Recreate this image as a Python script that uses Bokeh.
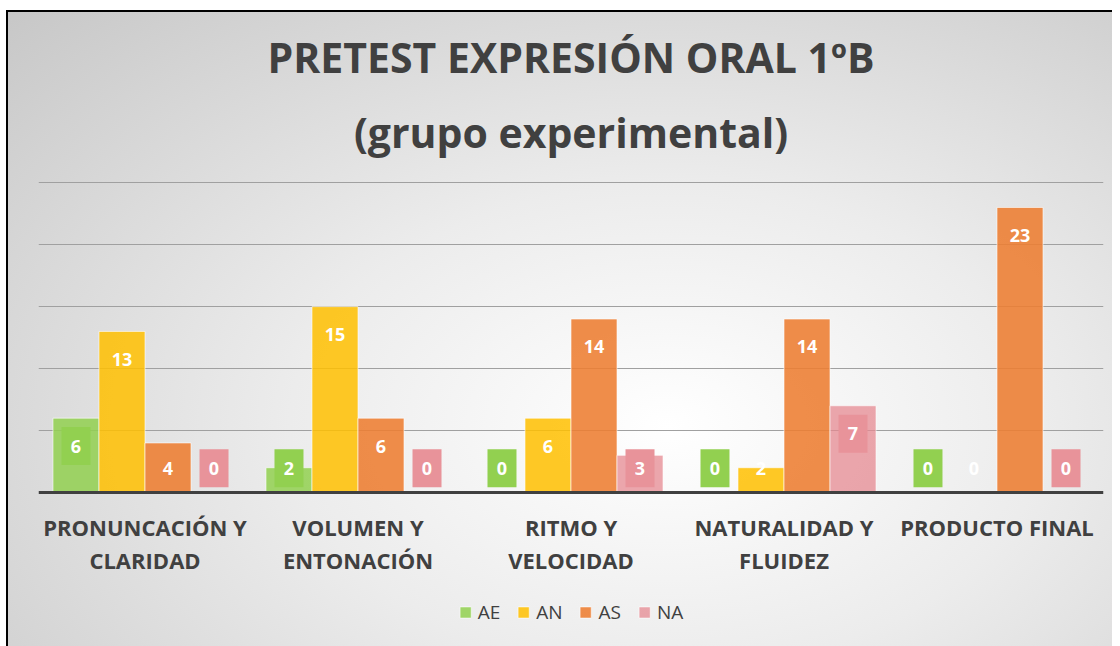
from bokeh.plotting import figure
from bokeh.models import (FactorRange, Range1d, FixedTicker, Legend, LegendItem,
                          ColumnDataSource, Title, Span)
from bokeh.transform import dodge
from bokeh.core.properties import value
from bokeh.embed import file_html
from bokeh.resources import INLINE

categories = ["PRONUNCACIÓN Y CLARIDAD", "VOLUMEN Y ENTONACIÓN", "RITMO Y VELOCIDAD",
              "NATURALIDAD Y FLUIDEZ", "PRODUCTO FINAL"]
label_line1 = ["PRONUNCACIÓN Y", "VOLUMEN Y", "RITMO Y", "NATURALIDAD Y", "PRODUCTO FINAL"]
label_line2 = ["CLARIDAD", "ENTONACIÓN", "VELOCIDAD", "FLUIDEZ", ""]
series_names = ["AE", "AN", "AS", "NA"]
AE = [6, 2, 0, 0, 0]
AN = [13, 15, 6, 2, 0]
AS = [4, 6, 14, 14, 23]
NA = [0, 0, 3, 7, 0]
grid_ticks = [5, 10, 15, 20, 25]
title_line1 = "PRETEST EXPRESIÓN ORAL 1ºB"
title_line2 = "(grupo experimental)"

bar_colors = {"AE": "#92D050", "AN": "#FFC000", "AS": "#ED7D31", "NA": "#E68A91"}
bar_alpha = {"AE": 0.85, "AN": 0.85, "AS": 0.88, "NA": 0.75}
box_colors = {"AE": "#92D050", "AN": None, "AS": None, "NA": "#E8939A"}
offsets = {"AE": -0.324, "AN": -0.108, "AS": 0.108, "NA": 0.324}
data = {"AE": AE, "AN": AN, "AS": AS, "NA": NA}

TEXT = "#404040"
FONT = "Open Sans"

# value range 0..25.5 above the baseline; space below the baseline holds the category labels and legend
p = figure(x_range=FactorRange(*categories, range_padding=0), y_range=Range1d(-11.94, 25.5),
           frame_width=1065, frame_height=464, output_backend="svg", toolbar_location=None,
           min_border_left=38, min_border_right=9, min_border_top=176, min_border_bottom=6)
p.border_fill_color = None
p.background_fill_color = None
p.outline_line_color = None
p.styles = {
    "background": ("linear-gradient(#ffffff,#ffffff) 0 0 / 100% 10px no-repeat, "
                   "linear-gradient(#ffffff,#ffffff) 0 0 / 6px 100% no-repeat, "
                   "linear-gradient(#000000,#000000) 6px 10px / 100% 2px no-repeat, "
                   "linear-gradient(#000000,#000000) 6px 10px / 2px 100% no-repeat, "
                   "radial-gradient(ellipse farthest-corner at 60% 66%, #ffffff 0%, #ececec 40%, #c6c6c6 100%)")
}

def style_title(t, standoff):
    t.align = "center"
    t.text_font = FONT
    t.text_font_style = "bold"
    t.text_font_size = "41px"
    t.text_color = TEXT
    t.standoff = standoff

p.title.text = title_line1
style_title(p.title, 0)
t2 = Title(text=title_line2)
style_title(t2, 34)
p.add_layout(t2, "above")

p.xaxis.visible = False
p.yaxis.visible = False
p.ygrid.ticker = FixedTicker(ticks=grid_ticks)
p.ygrid.grid_line_color = "#a0a0a0"
p.ygrid.grid_line_width = 1
p.xgrid.grid_line_color = None

items = []
for s in series_names:
    src = ColumnDataSource(dict(cat=categories, v=data[s],
                                ly=[max(v - 2.25, 1.95) for v in data[s]],
                                lbl=[str(v) for v in data[s]]))
    r = p.vbar(x=dodge("cat", offsets[s], range=p.x_range), top="v", width=0.216, source=src,
               fill_color=bar_colors[s], fill_alpha=bar_alpha[s],
               line_color="#ffffff", line_alpha=0.6, line_width=1)
    items.append(LegendItem(label=s, renderers=[r]))
    if box_colors[s]:
        p.rect(x=dodge("cat", offsets[s], range=p.x_range), y="ly", width=29, height=38,
               width_units="screen", height_units="screen", source=src,
               fill_color=box_colors[s], line_color=None)
    p.text(x=dodge("cat", offsets[s], range=p.x_range), y="ly", text="lbl", source=src,
           text_align="center", text_baseline="middle", text_color="#ffffff",
           text_font=value(FONT), text_font_style="bold", text_font_size="18px")

# category axis: baseline and two-line labels
p.add_layout(Span(location=0, dimension="width", line_color=TEXT, line_width=3))
cat_src = ColumnDataSource(dict(cat=categories, l1=label_line1, l2=label_line2))
for col, yy in (("l1", -2.82), ("l2", -5.48)):
    p.text(x="cat", y=yy, text=col, source=cat_src, text_align="center", text_baseline="middle",
           text_color=TEXT, text_font=value(FONT), text_font_style="bold", text_font_size="22px")

legend = Legend(items=items, orientation="horizontal", location="bottom_center",
                label_text_font=FONT, label_text_font_size="19px", label_text_color=TEXT,
                glyph_width=14, glyph_height=14, spacing=16, label_standoff=6,
                background_fill_alpha=0, border_line_color=None, margin=15, padding=0)
p.add_layout(legend, "center")

open("out.html", "w").write(file_html(p, INLINE))
